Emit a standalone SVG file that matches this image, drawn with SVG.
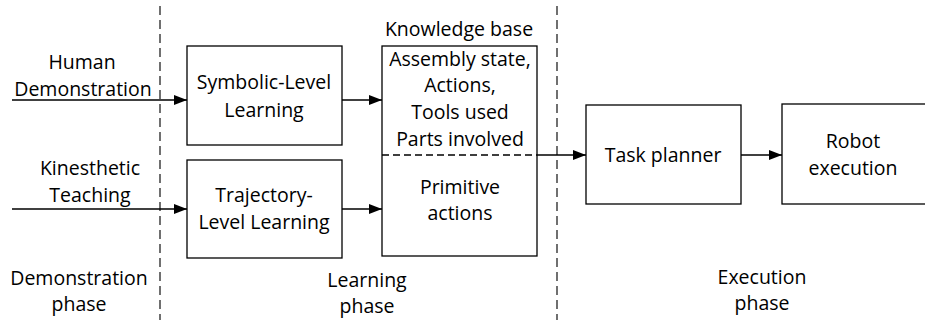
<svg xmlns="http://www.w3.org/2000/svg" width="925" height="320" viewBox="0 0 925 320">
<style>
text{font-family:"Open Sans","Liberation Sans",sans-serif;font-size:19.5px;fill:#000;text-anchor:middle}
.box{fill:#fff;stroke:#000;stroke-width:1.3}
.phase{stroke:#4d4d4d;stroke-width:1.6;stroke-dasharray:9,5;fill:none}
.div{stroke:#000;stroke-width:1.3;stroke-dasharray:7,4;fill:none}
.arr{stroke:#000;stroke-width:1.3;fill:none;marker-end:url(#ah)}
</style>
<defs>
<marker id="ah" markerWidth="14" markerHeight="10" refX="13" refY="5" orient="auto" markerUnits="userSpaceOnUse">
<path d="M0,0 L13,5 L0,10 Z" fill="#000"/>
</marker>
</defs>
<rect width="925" height="320" fill="#fff"/>
<g id="phase-lines">
<line class="phase" x1="160" y1="6" x2="160" y2="320"/>
<line class="phase" x1="557" y1="6" x2="557" y2="320"/>
</g>
<g id="labels">
<text x="82" y="69">Human</text>
<text x="83" y="96">Demonstration</text>
<text x="90" y="175">Kinesthetic</text>
<text x="90" y="202">Teaching</text>
<text x="79" y="285">Demonstration</text>
<text x="79" y="311">phase</text>
<text x="367" y="287">Learning</text>
<text x="367" y="313">phase</text>
<text x="762" y="284">Execution</text>
<text x="762" y="310">phase</text>
</g>
<g id="symbolic">
<rect class="box" x="187" y="46" width="155" height="99"/>
<text x="264" y="89">Symbolic-Level</text>
<text x="264" y="117">Learning</text>
</g>
<g id="trajectory">
<rect class="box" x="187" y="160" width="155" height="98"/>
<text x="264" y="202">Trajectory-</text>
<text x="264" y="229">Level Learning</text>
</g>
<g id="knowledge">
<text x="459" y="36">Knowledge base</text>
<rect class="box" x="382" y="46" width="155" height="210"/>
<line class="div" x1="382" y1="155" x2="537" y2="155"/>
<text x="460" y="66">Assembly state,</text>
<text x="460" y="92">Actions,</text>
<text x="460" y="119">Tools used</text>
<text x="460" y="146">Parts involved</text>
<text x="460" y="194">Primitive</text>
<text x="460" y="220">actions</text>
</g>
<g id="task-planner">
<rect class="box" x="586" y="105" width="155" height="99"/>
<text x="663" y="162">Task planner</text>
</g>
<g id="robot">
<rect class="box" x="782" y="104" width="150" height="100"/>
<text x="853" y="148">Robot</text>
<text x="853" y="175">execution</text>
</g>
<g id="connectors">
<line class="arr" x1="12" y1="100" x2="187" y2="100"/>
<line class="arr" x1="12" y1="209" x2="187" y2="209"/>
<line class="arr" x1="342" y1="100" x2="382" y2="100"/>
<line class="arr" x1="342" y1="209" x2="382" y2="209"/>
<line class="arr" x1="537" y1="155" x2="586" y2="155"/>
<line class="arr" x1="741" y1="155" x2="782" y2="155"/>
</g>
</svg>
